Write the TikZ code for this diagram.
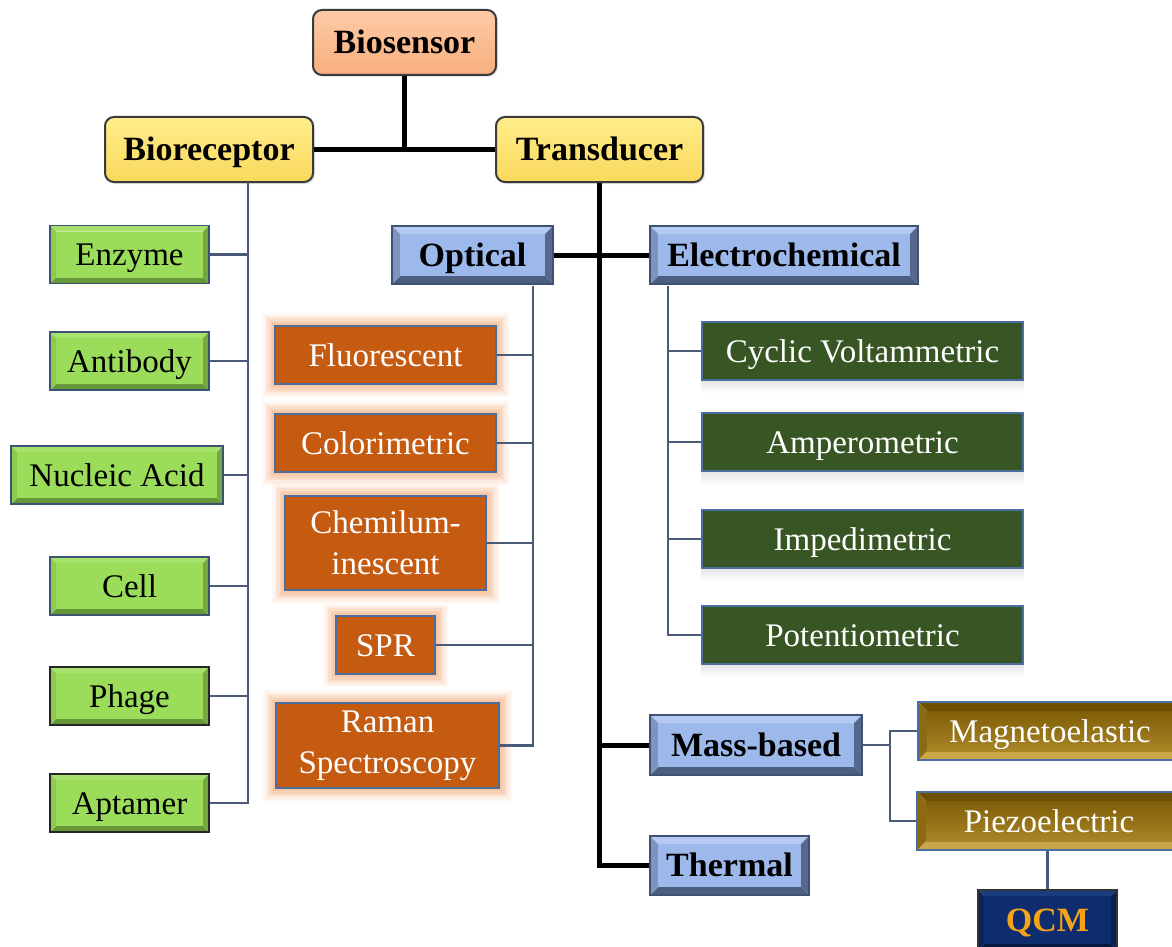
\documentclass[tikz,border=0pt]{standalone}
\usepackage{fontspec}
\setmainfont{Liberation Serif}
\usetikzlibrary{shadows}
\definecolor{linec}{HTML}{4A5A78}
\definecolor{bordc}{HTML}{3E5373}
\definecolor{rbord}{HTML}{3A3A3A}
\definecolor{salT}{HTML}{FDCBA6}
\definecolor{salB}{HTML}{F7AE7E}
\definecolor{yelT}{HTML}{FFEC8A}
\definecolor{yelB}{HTML}{F9D95C}
\definecolor{gM}{HTML}{9BDD5B}
\definecolor{gT}{HTML}{A6E26C}
\definecolor{gL}{HTML}{8CCB4E}
\definecolor{gR}{HTML}{76A842}
\definecolor{gB}{HTML}{679838}
\definecolor{bM}{HTML}{9DB9EC}
\definecolor{bT}{HTML}{B4CAF2}
\definecolor{bL}{HTML}{7E93BE}
\definecolor{bR}{HTML}{56688C}
\definecolor{bB}{HTML}{4D5E82}
\definecolor{oM}{HTML}{C55A11}
\definecolor{oBd}{HTML}{4A6E9F}
\definecolor{glowc}{HTML}{F6B88E}
\definecolor{dgM}{HTML}{375623}
\definecolor{auT}{HTML}{6E5004}
\definecolor{auL}{HTML}{8C6A12}
\definecolor{auR}{HTML}{C4A03F}
\definecolor{auB}{HTML}{C9A749}
\definecolor{auM1}{HTML}{7F5E08}
\definecolor{auM2}{HTML}{A98525}
\definecolor{nM}{HTML}{0F2D6E}
\definecolor{nT}{HTML}{1C3C82}
\definecolor{nL}{HTML}{0B2458}
\definecolor{nR}{HTML}{08204F}
\definecolor{nB}{HTML}{061A40}
\definecolor{qcmc}{HTML}{F7A21B}
\tikzset{
  bevel/.style n args={6}{path picture={
    \path (path picture bounding box.south west) coordinate (pSW)
          (path picture bounding box.north east) coordinate (pNE);
    \path (pSW) ++(#6pt,#6pt) coordinate (iSW);
    \path (pNE) ++(-#6pt,-#6pt) coordinate (iNE);
    \fill[#2] (pSW|-pNE) -- (pNE) -- (iNE) -- (iSW|-iNE) -- cycle;
    \fill[#5] (pSW) -- (pNE|-pSW) -- (iNE|-iSW) -- (iSW) -- cycle;
    \fill[#3] (pSW) -- (pSW|-pNE) -- (iSW|-iNE) -- (iSW) -- cycle;
    \fill[#4] (pNE|-pSW) -- (pNE) -- (iNE) -- (iNE|-iSW) -- cycle;
    \fill[#1] (iSW) rectangle (iNE);
  }},
  base/.style={inner sep=0pt, align=center, font=\fontsize{33}{41}\selectfont},
  boldf/.style={font=\fontsize{34}{41}\selectfont\bfseries},
  one/.style={text height=22pt, text depth=0pt},
  rbox/.style 2 args={base, one, boldf, rounded corners=9pt, draw=rbord, line width=2pt,
     top color=#1, bottom color=#2, minimum height=65pt,
     drop shadow={opacity=0.2, shadow xshift=2pt, shadow yshift=-2pt}},
  greenbox/.style={base, one, draw=bordc, line width=1.5pt, minimum height=58pt,
     bevel={fill=gM}{fill=gT}{fill=gL}{fill=gR}{fill=gB}{6}},
  bluebox/.style={base, one, boldf, draw=bordc, line width=1.5pt, minimum height=58pt,
     bevel={fill=bM}{fill=bT}{fill=bL}{fill=bR}{fill=bB}{8}},
  orangebox/.style={base, fill=oM, draw=oBd, line width=1.5pt, text=white, minimum height=58pt,
     preaction={draw=glowc, line width=26pt, opacity=0.10, rounded corners=14pt},
     preaction={draw=glowc, line width=21pt, opacity=0.16, rounded corners=11pt},
     preaction={draw=glowc, line width=16pt, opacity=0.24, rounded corners=8pt},
     preaction={draw=glowc, line width=11pt, opacity=0.32, rounded corners=5pt},
     preaction={draw=glowc, line width=6pt, opacity=0.45, rounded corners=2pt}},
  dgbox/.style={base, one, fill=dgM, draw=oBd, line width=1.5pt, text=white,
     minimum width=321pt, minimum height=58pt},
  goldbox/.style={base, one, draw=oBd, line width=1.5pt, text=white, minimum height=58pt,
     minimum width=264pt,
     bevel={top color=auM1, bottom color=auM2}{fill=auT}{fill=auL}{fill=auR}{fill=auB}{9}},
  navybox/.style={base, one, boldf, draw=black!80, line width=1.5pt, text=qcmc, minimum height=60pt,
     bevel={fill=nM}{fill=nT}{fill=nL}{fill=nR}{fill=nB}{6}},
  thickc/.style={line width=5pt, black},
  thinc/.style={line width=2.6pt, linec},
  refl/.style={top color=black!9, bottom color=white, draw=none}
}
\begin{document}
\begin{tikzpicture}[x=1pt, y=-1pt]
\path[use as bounding box, fill=white] (0,0) rectangle (1172,947);

% top level
\node[rbox={salT}{salB}, minimum width=183pt] (bios) at (404.5,42.5) {Biosensor};
\node[rbox={yelT}{yelB}, minimum width=208pt] (brec) at (209,149.5) {Bioreceptor};
\node[rbox={yelT}{yelB}, minimum width=207pt] (trans) at (599.5,149.5) {Transducer};

% bioreceptors
\node[greenbox, minimum width=159pt] (enz) at (129.5,254.5) {Enzyme};
\node[greenbox, minimum width=159pt] (anti) at (129.5,361) {Antibody};
\node[greenbox, minimum width=212pt] (nuc) at (117,475) {Nucleic Acid};
\node[greenbox, minimum width=159pt] (cell) at (129.5,586) {Cell};
\node[greenbox, minimum width=159pt, draw=black!85] (phage) at (129.5,696) {Phage};
\node[greenbox, minimum width=159pt, draw=black!85] (apt) at (129.5,803) {Aptamer};

% transducer categories
\node[bluebox, minimum width=161pt] (opt) at (472.5,255) {Optical};
\node[bluebox, minimum width=268pt] (elec) at (784,255) {Electrochemical};
\node[bluebox, minimum width=212pt, minimum height=60pt] (mass) at (756,745) {Mass-based};
\node[bluebox, minimum width=159pt, minimum height=59pt] (therm) at (729.5,865.5) {Thermal};

% optical
\node[orangebox, one, minimum width=221pt] (flu) at (385.5,355) {Fluorescent};
\node[orangebox, one, minimum width=221pt] (col) at (385.5,443) {Colorimetric};
\node[orangebox, minimum width=201pt, minimum height=94pt] (chem) at (385.5,543) {Chemilum-\\inescent};
\node[orangebox, one, minimum width=99pt] (spr) at (385.5,645) {SPR};
\node[orangebox, minimum width=223pt, minimum height=85pt] (ram) at (387.5,745.5) {Raman\\Spectroscopy};

% electrochemical
\node[dgbox] (cv) at (862.5,351) {Cyclic Voltammetric};
\node[dgbox] (amp) at (862.5,442) {Amperometric};
\node[dgbox] (imp) at (862.5,539) {Impedimetric};
\node[dgbox] (pot) at (862.5,635) {Potentiometric};
\foreach \n in {cv,amp,imp,pot}{
  \shade[refl] ([yshift=-1pt]\n.south west) rectangle ([yshift=-13pt]\n.south east);
}

% mass-based
\node[goldbox] (mag) at (1050,731) {Magnetoelastic};
\node[goldbox] (piezo) at (1049,821) {Piezoelectric};
\node[navybox, minimum width=139pt] (qcm) at (1047.5,920) {QCM};

% coordinates for trunks
\coordinate (bt) at (248,182);
\coordinate (ot) at (533,286);
\coordinate (et) at (668,286);
\coordinate (mj) at (890,745);

% thick connectors
\draw[thickc] (bios.south) -- (bios.south |- brec.east);
\draw[thickc] (brec.east) -- (trans.west);
\draw[thickc] (trans.south) |- (therm.west);
\draw[thickc] (mass.west) -- (mass.west -| trans.south);
\draw[thickc] (opt.east) -- (elec.west);

% bioreceptor branch
\draw[thinc] (bt) |- (apt.east);
\foreach \n in {enz,anti,nuc,cell,phage}{
  \draw[thinc] (\n.east) -- (\n.east -| bt);
}

% optical branch
\draw[thinc] (ot) |- (ram.east);
\foreach \n in {flu,col,chem,spr}{
  \draw[thinc] (\n.east) -- (\n.east -| ot);
}

% electrochemical branch
\draw[thinc] (et) |- (pot.west);
\foreach \n in {cv,amp,imp}{
  \draw[thinc] (\n.west) -- (\n.west -| et);
}

% mass-based branch
\draw[thinc] (mass.east) -- (mj);
\draw[thinc] (mag.west) -- (mag.west -| mj) -- (piezo.west -| mj) -- (piezo.west);
\draw[thinc] (qcm.north) -- (qcm.north |- piezo.south);
\end{tikzpicture}
\end{document}
